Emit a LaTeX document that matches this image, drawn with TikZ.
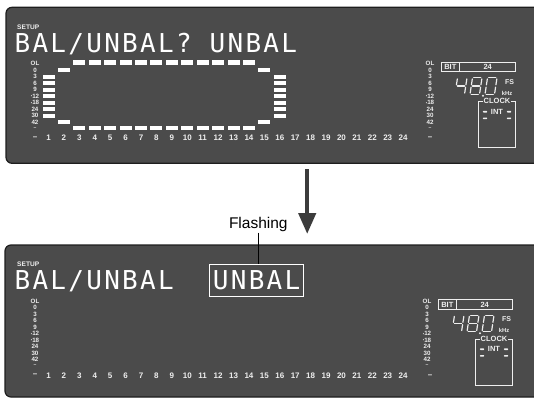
\documentclass[tikz,border=0pt]{standalone}
\usepackage{fontspec}
\setmainfont{Liberation Sans}
\newfontfamily\lcdfont[LetterSpace=8.8]{DejaVu Sans Mono}
\usetikzlibrary{arrows.meta,positioning}

\definecolor{panelgray}{HTML}{4B4B4B}
\definecolor{paneledge}{HTML}{1E1E1E}
\definecolor{lcdwhite}{HTML}{EEEEEE}
\definecolor{arrowgray}{HTML}{3C3C3C}

\tikzset{
  panel/.style={fill=panelgray, draw=paneledge, line width=1.2pt, rounded corners=6pt},
  lvl/.style={font=\bfseries\fontsize{6.2}{6.2}\selectfont, text=lcdwhite, inner sep=0pt},
  chan/.style={font=\bfseries\fontsize{8}{8}\selectfont, text=lcdwhite, inner sep=0pt},
  setup/.style={font=\bfseries\fontsize{6.6}{6.6}\selectfont, text=lcdwhite, inner sep=0pt, anchor=west},
  bigtxt/.style={font=\lcdfont\fontsize{26}{26}\selectfont, text=white, inner sep=0pt, anchor=base west},
  stbox/.style={draw=lcdwhite, line width=0.7pt, inner sep=0pt, minimum height=9.4pt,
    font=\bfseries\fontsize{7.5}{7.5}\selectfont, text=lcdwhite},
  stlbl/.style={font=\bfseries\fontsize{7.5}{7.5}\selectfont, text=lcdwhite, inner sep=0pt},
  seg/.style={draw=lcdwhite, line width=1.2pt, line cap=round},
  bar/.style={fill=white},
}

% seven segment pieces of the sample rate digits
\newcommand{\sgA}{\draw[seg] (1.2,0) -- (8.3,0);}
\newcommand{\sgB}{\draw[seg] (9.5,1.2) -- (9.5,7.1);}
\newcommand{\sgC}{\draw[seg] (9.5,9.4) -- (9.5,15.3);}
\newcommand{\sgD}{\draw[seg] (1.2,16.5) -- (8.3,16.5);}
\newcommand{\sgE}{\draw[seg] (0,9.4) -- (0,15.3);}
\newcommand{\sgF}{\draw[seg] (0,1.2) -- (0,7.1);}
\newcommand{\sgG}{\draw[seg] (1.2,8.25) -- (8.3,8.25);}
\newcommand{\segdig}[2]{%
  \begin{scope}[shift={(#1,77.7)}, xslant=0.15]
    \foreach \s in {#2} {\csname sg\s\endcsname}
  \end{scope}}

\newcommand{\tdot}{{\fontsize{4}{4}\selectfont\raisebox{0.4pt}{•}}}
\newcommand{\tinf}{{\fontsize{5}{5}\selectfont –}}

% dB scale beside a meter
\newcommand{\levelscale}[2]{%
  \foreach \t [count=\k] in {OL,0,3,6,9,{\tdot12},{\tdot18},24,30,42,\tinf}
    \node[lvl] (#2\k) at (#1,{57+6.5*\k}) {\t};}

% channel numbers
\newcommand{\chanrow}[1]{%
  \node[chan] (#1chl) at (35,138) {–};
  \foreach \i in {1,...,24}
    \node[chan] (#1ch\i) at ({48.5+15.42*(\i-1)},138) {\i};
  \node[chan] (#1chr) at (430,138.5) {–};}

% bit, sample rate and clock block
\newcommand{\statusblk}[1]{%
  \node[stbox, minimum width=17.3pt] (#1bit) at (450.35,67) {BIT};
  \node[stbox, minimum width=56pt, right=0pt of #1bit] (#1bitval) {24};
  \segdig{457.5}{B,C,F,G}
  \segdig{472.5}{A,B,C,D,E,F,G}
  \segdig{487.5}{A,B,C,D,E,F}
  \fill[lcdwhite] (483,95.7) circle (1.1);
  \node[stlbl, font=\bfseries\fontsize{7}{7}\selectfont] (#1fs) at (509.5,81.7) {FS};
  \node[stlbl, font=\bfseries\fontsize{5.8}{5.8}\selectfont] (#1khz) at (507,93) {kHz};
  \node[draw=lcdwhite, line width=0.7pt, minimum width=37.4pt, minimum height=46pt, inner sep=0pt] (#1clk) at (497,124.7) {};
  \node[stlbl, fill=panelgray, inner xsep=0.8pt] (#1clklbl) at (#1clk.north) {CLOCK};
  \node[stlbl] (#1int) at (497,111.7) {INT};
  \foreach \dx in {485,509}
    \foreach \dy in {111.7,118.3}
      \fill[lcdwhite, rounded corners=0.7pt] ({\dx-2.2},{\dy-0.8}) rectangle ({\dx+2.2},{\dy+0.8});}

\begin{document}
\begin{tikzpicture}[x=1pt, y=-1pt]
\useasboundingbox (0,0) rectangle (534,402);
\clip (0,0) rectangle (534,402);

% upper display
\draw[panel] (6,7.3) rectangle (548,163.3);
\node[setup] (tsetup) at (17,27) {SETUP};
\node[bigtxt] (tmsg) at (14.4,52.3) {BAL/UNBAL? UNBAL};
\levelscale{35}{tl}
\levelscale{430}{tr}
\chanrow{t}
% meter bars
\foreach \k in {3,...,9} {
  \fill[bar] (42.5,{55+6.5*\k}) rectangle ++(12,4);
  \fill[bar] (273.8,{55+6.5*\k}) rectangle ++(12,4);
}
\foreach \c in {2,15} {
  \fill[bar] ({42.5+15.42*(\c-1)},68) rectangle ++(12,4);
  \fill[bar] ({42.5+15.42*(\c-1)},120) rectangle ++(12,4);
}
\foreach \c in {3,...,14} {
  \fill[bar] ({42.5+15.42*(\c-1)},60.3) rectangle ++(12,4.4);
  \fill[bar] ({42.5+15.42*(\c-1)},125.8) rectangle ++(12,4.4);
}
\statusblk{t}

% arrow between the displays
\coordinate (arrtop) at (307.2,169.3);
\coordinate (arrtip) at (307.2,234);
\draw[arrowgray, line width=4.3pt, -{Triangle[length=21pt, width=17pt]}] (arrtop) -- (arrtip);

% lower display
\begin{scope}[yshift=-237.5pt]
\draw[panel] (5,7.5) rectangle (548,159.5);
\node[setup] (bsetup) at (17,27) {SETUP};
\node[bigtxt] (bmsg) at (14.4,52.3) {BAL/UNBAL};
\node[bigtxt, draw=white, line width=0.9pt, inner xsep=3.5pt, inner ysep=6pt] (unbal) at (209,52.3) {UNBAL};
\levelscale{35}{bl}
\chanrow{b}
\begin{scope}[xshift=-3pt]
\levelscale{430}{br}
\statusblk{b}
\end{scope}
\end{scope}

\node[font=\fontsize{15.5}{15.5}\selectfont, inner sep=1pt] (flash) at (258.3,224.2) {Flashing};
\draw[line width=0.8pt] (flash.south) -- (flash.south |- unbal.north);
\end{tikzpicture}
\end{document}
